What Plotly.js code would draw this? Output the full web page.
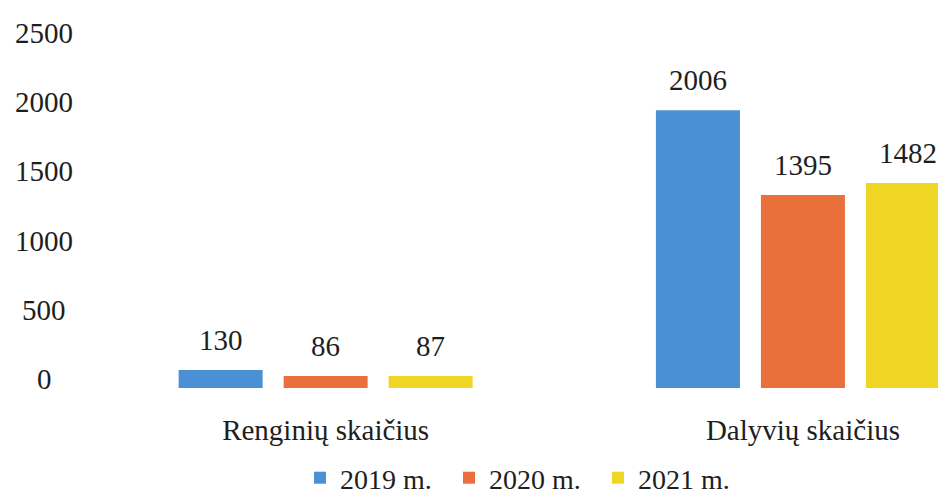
<!DOCTYPE html>
<html>
<head>
<meta charset="utf-8">
<script src="https://cdn.plot.ly/plotly-3.0.1.min.js"></script>
<style>html,body{margin:0;padding:0;background:#fff;}#chart{width:938px;height:503px;}</style>
</head>
<body>
<div id="chart"></div>
<script>
const categories = ['Renginių skaičius', 'Dalyvių skaičius'];
const seriesNames = ['2019 m.', '2020 m.', '2021 m.'];
const v2019 = [130, 2006];
const v2020 = [86, 1395];
const v2021 = [87, 1482];
const yTicks = [0, 500, 1000, 1500, 2000, 2500];

const colors = ['#4b8fd4', '#e9703b', '#efd624'];
const font = 'Liberation Serif, Times New Roman, serif';
const textColor = '#1e1e1e';

const W = 938, H = 503;
const m = {l: 87, r: 0, t: 42, b: 115, autoexpand: false};
const xRange = [-0.5, 1.283];
const bargap = 0.34, bargroupgap = 0.2;
const pxPerCat = (W - m.l - m.r) / (xRange[1] - xRange[0]);
const slot = (1 - bargap) / 3 * pxPerCat;

const allSeries = [v2019, v2020, v2021];
const traces = allSeries.map((vals, i) => ({
  type: 'bar',
  name: seriesNames[i],
  x: categories,
  y: vals,
  marker: {color: colors[i]},
  hoverinfo: 'none'
}));

const annotations = [];
allSeries.forEach((vals, i) => {
  vals.forEach((v, j) => {
    annotations.push({
      x: categories[j], y: v, xref: 'x', yref: 'y',
      xshift: (i - 1) * slot, yshift: 12,
      yanchor: 'bottom', xanchor: 'center',
      text: String(v), showarrow: false,
      font: {family: font, size: 29, color: textColor}
    });
  });
});
yTicks.forEach(t => {
  annotations.push({
    x: (44 - m.l) / (W - m.l - m.r), xref: 'paper', y: t, yref: 'y',
    xanchor: 'center', yanchor: 'middle', yshift: 9, text: String(t), showarrow: false,
    font: {family: font, size: 29, color: textColor}
  });
});

const layout = {
  width: W, height: H,
  margin: m,
  paper_bgcolor: '#ffffff', plot_bgcolor: '#ffffff',
  barmode: 'group', bargap: bargap, bargroupgap: bargroupgap,
  showlegend: true,
  legend: {
    orientation: 'h', x: (300 - m.l) / (W - m.l - m.r), xanchor: 'left',
    y: -(503 - (H - m.b)) / (H - m.t - m.b), yanchor: 'bottom',
    entrywidth: 104, entrywidthmode: 'pixels',
    font: {family: font, size: 28, color: textColor}
  },
  xaxis: {
    type: 'category', range: xRange, showgrid: false, zeroline: false, showline: false,
    ticks: '', ticklabelstandoff: 22,
    tickfont: {family: font, size: 29, color: textColor}
  },
  yaxis: {
    range: [0, 2500], showgrid: false, zeroline: false, showline: false,
    showticklabels: false, tickvals: yTicks
  },
  annotations: annotations
};

Plotly.newPlot('chart', traces, layout, {staticPlot: true, displayModeBar: false});
</script>
</body>
</html>
